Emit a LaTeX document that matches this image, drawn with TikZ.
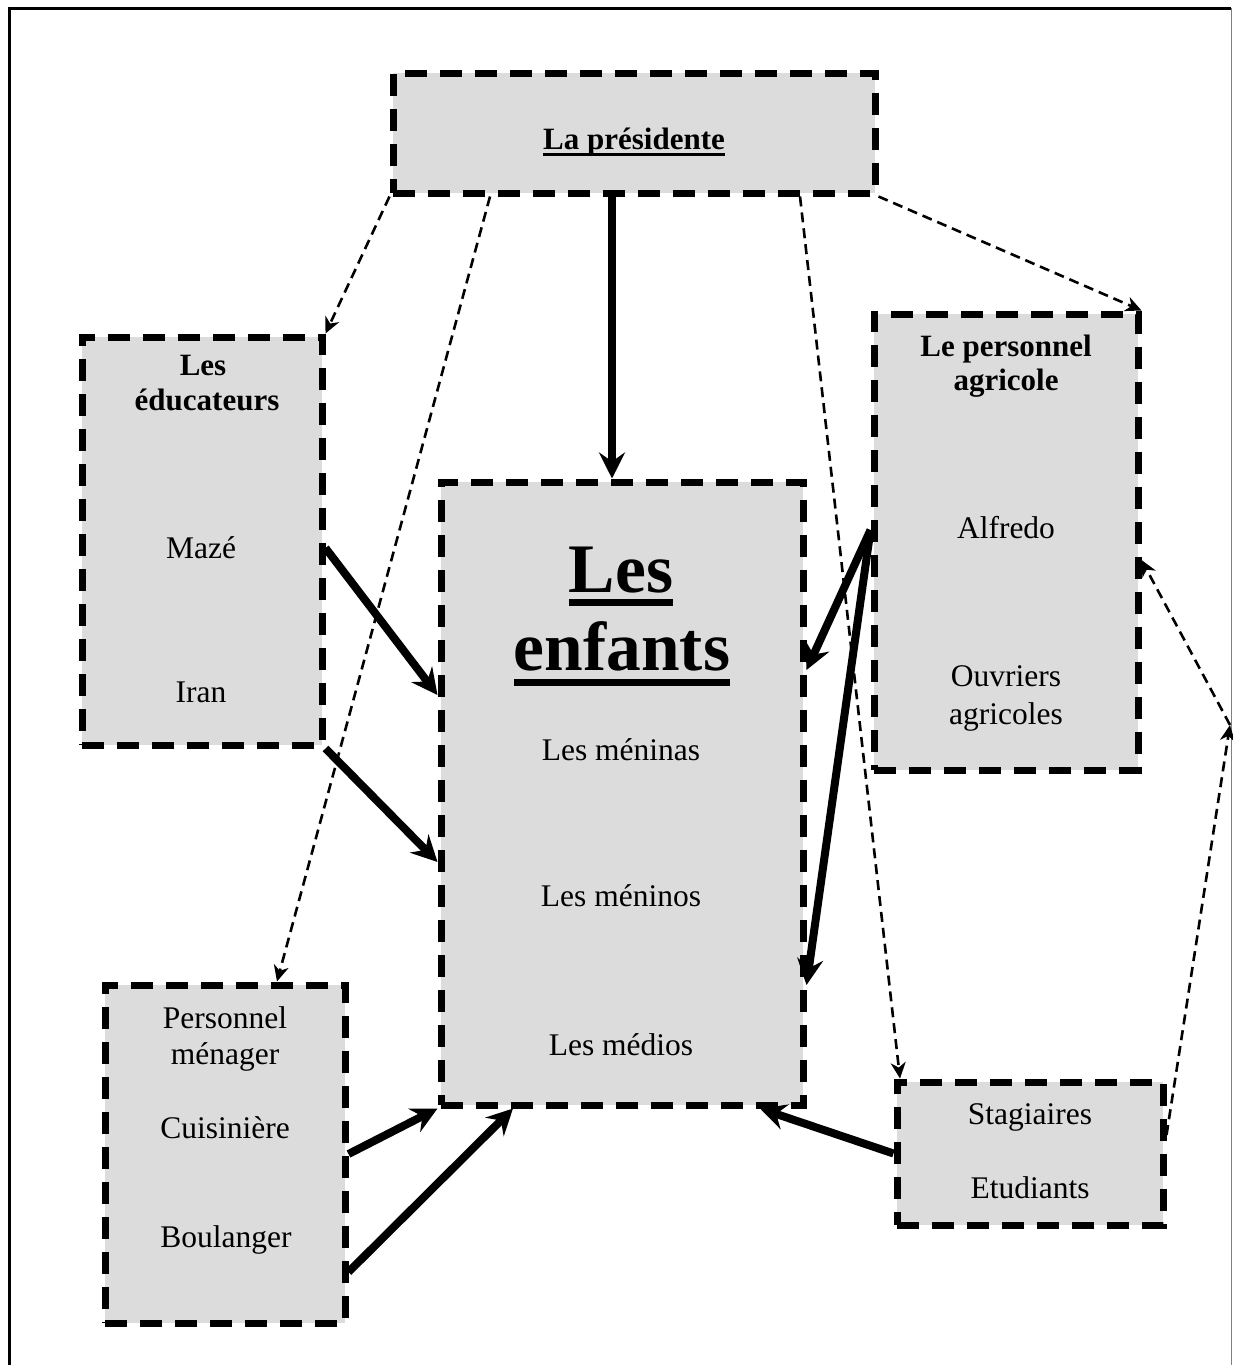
\documentclass[tikz,border=0pt]{standalone}
\usepackage{fontspec}
\setmainfont{Liberation Serif}
\usetikzlibrary{arrows.meta}
\definecolor{boxgray}{HTML}{DCDCDC}
\newcommand\ulfix[3]{\leavevmode\setbox0\hbox{#3}\rlap{\copy0}\rule[-#2]{\wd0}{#1}}
\tikzset{
 box/.style={draw, line width=7pt, dash pattern=on 22pt off 13pt, fill=boxgray, inner sep=0pt, rectangle},
 txt/.style={anchor=base, inner sep=0pt, font=\fontsize{31.5}{36}\selectfont},
 btxt/.style={anchor=base, inner sep=0pt, font=\fontsize{31}{36}\selectfont\bfseries},
 bigtxt/.style={anchor=base, inner sep=0pt, font=\fontsize{69.5}{74}\selectfont\bfseries},
 thickarrow/.style={line width=8pt, -{Stealth[length=26pt,width=26pt,inset=9pt]}},
 thinarrow/.style={line width=2.6pt, dash pattern=on 10pt off 6pt, -{Stealth[length=16pt,width=15pt,inset=5pt]}},
}
\begin{document}
\begin{tikzpicture}[x=1pt,y=-1pt]
\useasboundingbox (0,0) rectangle (1233,1365);
\fill[white] (0,0) rectangle (1233,1365);
% outer frame
\draw[line width=3pt] (9.5,1370) -- (9.5,8.5) -- (1231,8.5);
\draw[line width=1.5pt, gray] (1231.5,8) -- (1231.5,1370);

% boxes
\node[box, minimum width=482pt, minimum height=120pt] (pres) at (634,133) {};
\node[box, minimum width=240pt, minimum height=408pt] (edu) at (202,541) {};
\node[box, minimum width=362pt, minimum height=623pt] (enf) at (622,793.5) {};
\node[box, minimum width=264pt, minimum height=456pt] (agr) at (1006,542) {};
\node[box, minimum width=240pt, minimum height=338pt] (men) at (225,1154) {};
\node[box, minimum width=266pt, minimum height=143pt] (stag) at (1030,1153.5) {};

% texts
\node[btxt] (tpres) at (634,149) {\ulfix{3.3pt}{7pt}{La présidente}};

\node[btxt] (tedu1) at (203,375) {Les};
\node[btxt] (tedu2) at (207,410) {éducateurs};
\node[txt] (maze) at (201,558) {Mazé};
\node[txt] (iran) at (201,702) {Iran};

\node[bigtxt] (tenf1) at (621,592) {\ulfix{7pt}{14pt}{Les}};
\node[bigtxt] (tenf2) at (622,670) {\ulfix{7pt}{16pt}{enfants}};
\node[txt] (menina) at (621,760) {Les méninas};
\node[txt] (menino) at (621,906) {Les méninos};
\node[txt] (medio) at (621,1055) {Les médios};

\node[btxt] (tagr1) at (1006,356) {Le personnel};
\node[btxt] (tagr2) at (1006,390) {agricole};
\node[txt] (alfredo) at (1006,538) {Alfredo};
\node[txt] (ouvr1) at (1006,686) {Ouvriers};
\node[txt] (ouvr2) at (1006,724) {agricoles};

\node[txt] (tmen1) at (225,1028) {Personnel};
\node[txt] (tmen2) at (225,1064) {ménager};
\node[txt] (cuis) at (225,1138) {Cuisinière};
\node[txt] (boul) at (226,1247) {Boulanger};

\node[txt] (tstag1) at (1030,1124) {Stagiaires};
\node[txt] (tstag2) at (1030,1198) {Etudiants};

% thin dashed connectors
\draw[thinarrow] (pres.south west) -- (edu.north east);
\draw[thinarrow] ([xshift=-144pt]pres.south) -- ([xshift=52pt]men.north);
\draw[thinarrow] ([xshift=166pt]pres.south) -- ([xshift=-130pt]stag.north);
\draw[thinarrow] (pres.south east) -- (agr.north east);
\coordinate (bend) at (1230,725);
\draw[thinarrow] ([yshift=18.5pt]stag.east) -- (bend);
\draw[thinarrow] (bend) -- ([yshift=-18pt]agr.east);

% thick connectors
\draw[thickarrow] ([xshift=-22pt]pres.south) -- ([xshift=-10pt]enf.north);
\draw[thickarrow] ([yshift=-7pt]edu.east) -- ([yshift=98.5pt]enf.west);
\draw[thickarrow] (edu.south east) -- ([yshift=-68.5pt]enf.west);
\draw[thickarrow] ([yshift=12pt]agr.west) -- ([yshift=123.5pt]enf.east);
\draw[thickarrow] ([yshift=12pt]agr.west) -- ([yshift=-191.5pt]enf.east);
\draw[thickarrow] (men.east) -- (enf.south west);
\draw[thickarrow] ([yshift=-118pt]men.east) -- ([xshift=-109pt]enf.south);
\draw[thickarrow] (stag.west) -- ([xshift=138pt]enf.south);
\end{tikzpicture}
\end{document}
